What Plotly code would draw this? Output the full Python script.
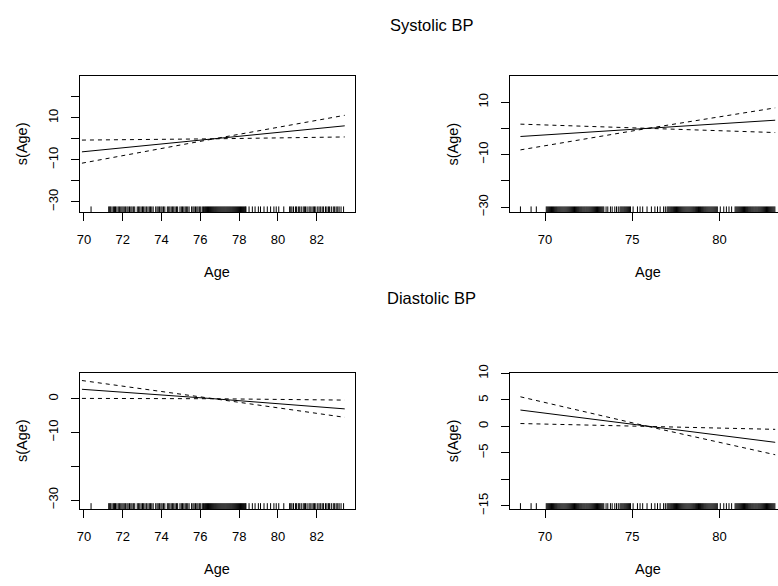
import plotly.graph_objects as go

# ---------------- data ----------------
# Left column (same age sample in both panels)
age_grid_left = [69.9, 76.7, 83.44]
sys_left_fit = [-6.2, 0.0, 6.2]
sys_left_upper = [-0.6, 0.0, 11.2]
sys_left_lower = [-11.6, 0.0, 0.9]
dia_left_fit = [2.8, 0.0, -3.0]
dia_left_upper = [5.4, 0.0, -0.4]
dia_left_lower = [0.1, 0.0, -5.5]

# Right column
age_grid_right = [68.59, 75.9, 83.2]
sys_right_fit = [-3.1, 0.0, 3.1]
sys_right_upper = [1.6, 0.0, 7.8]
sys_right_lower = [-8.2, 0.0, -1.6]
dia_right_fit = [3.1, 0.0, -3.0]
dia_right_upper = [5.6, 0.0, -0.55]
dia_right_lower = [0.55, 0.0, -5.35]

rug_left = [70.37,
    71.28, 71.33, 71.38, 71.45, 71.52, 71.58, 71.63, 71.7, 71.77, 71.83, 71.9, 71.96,
    72.02, 72.08, 72.15, 72.22, 72.28, 72.35, 72.42, 72.48, 72.55, 72.62, 72.75, 72.82,
    72.88, 72.95, 73.02, 73.08, 73.15, 73.22, 73.3, 73.37, 73.43, 73.5, 73.57, 73.7,
    73.77, 73.83, 73.9, 73.97, 74.03, 74.1, 74.17, 74.3, 74.37, 74.43, 74.5, 74.57,
    74.63, 74.7, 74.77, 74.83, 74.95, 75.02, 75.08, 75.15, 75.22, 75.28, 75.35, 75.42,
    75.55, 75.62, 75.68, 75.75, 75.82, 75.88, 75.95, 76.02, 76.1, 76.16, 76.22, 76.27,
    76.32, 76.37, 76.42, 76.47, 76.52, 76.57, 76.62, 76.67, 76.72, 76.77, 76.82, 76.87,
    76.92, 76.97, 77.02, 77.07, 77.12, 77.17, 77.22, 77.27, 77.32, 77.37, 77.42, 77.47,
    77.52, 77.57, 77.62, 77.67, 77.72, 77.77, 77.82, 77.87, 77.92, 77.97, 78.02, 78.07,
    78.12, 78.17, 78.22, 78.27, 78.32, 78.35,
    78.51, 78.68, 78.82, 78.99, 79.1, 79.28, 79.45, 79.62, 79.79, 79.91, 80.04, 80.3,
    80.6, 80.66, 80.72, 80.8, 80.9, 80.96, 81.05, 81.12, 81.2, 81.3, 81.36, 81.42, 81.5,
    81.6, 81.66, 81.75, 81.82, 81.88, 81.95, 82.05, 82.12, 82.2, 82.28, 82.35, 82.45,
    82.52, 82.6, 82.66, 82.75, 82.85, 82.92, 83.0, 83.08, 83.15, 83.25, 83.38]

rug_right = [68.59, 69.2, 69.5,
    70.07, 70.13, 70.19, 70.25, 70.31, 70.37, 70.43, 70.49, 70.55, 70.61, 70.67, 70.73,
    70.79, 70.85, 70.91, 70.97, 71.03, 71.09, 71.15, 71.21, 71.27, 71.33, 71.39, 71.45,
    71.51, 71.57, 71.63, 71.69, 71.75, 71.81, 71.87, 71.93, 71.99, 72.05, 72.11, 72.17,
    72.23, 72.29, 72.35, 72.41, 72.47, 72.53, 72.59, 72.65, 72.71, 72.77, 72.83, 72.89,
    72.95, 73.01, 73.07, 73.13, 73.19, 73.25, 73.31, 73.37,
    73.5, 73.6, 73.75, 73.85, 74.0, 74.1, 74.2,
    74.3, 74.36, 74.42, 74.48, 74.54, 74.6, 74.66, 74.72, 74.78, 74.84, 74.9,
    75.05, 75.3, 75.45, 75.6, 75.85, 76.1, 76.3, 76.45, 76.6, 76.8, 76.9,
    77.0, 77.06, 77.12, 77.18, 77.24, 77.3, 77.36, 77.42, 77.48, 77.54, 77.6, 77.66,
    77.72, 77.78, 77.84, 77.9, 77.96, 78.02, 78.08, 78.14, 78.2, 78.26, 78.32, 78.38,
    78.44, 78.5, 78.56, 78.62, 78.68, 78.74, 78.8, 78.86, 78.92, 78.98, 79.04, 79.1,
    79.16, 79.22, 79.28, 79.34, 79.4, 79.46, 79.52, 79.58, 79.64, 79.7, 79.76, 79.82, 79.88,
    80.05, 80.25, 80.4, 80.55, 80.7,
    80.9, 80.96, 81.02, 81.08, 81.14, 81.2, 81.26, 81.32, 81.38, 81.44, 81.5, 81.56,
    81.62, 81.68, 81.74, 81.8, 81.86, 81.92, 81.98, 82.04, 82.1, 82.16, 82.22, 82.28,
    82.34, 82.4, 82.46, 82.52, 82.58, 82.64, 82.7, 82.76, 82.82, 82.88, 82.94, 83.0,
    83.06, 83.12, 83.18]

x_ticks_left = [70, 72, 74, 76, 78, 80, 82]
x_ticks_right = [70, 75, 80]

y_ticks_sys_left = [-30, -20, -10, 0, 10, 20]
y_text_sys_left = ["\u221230", "", "\u221210", "", "10", ""]
y_ticks_sys_right = [-30, -20, -10, 0, 10]
y_text_sys_right = ["\u221230", "", "\u221210", "", "10"]
y_ticks_dia_left = [-30, -20, -10, 0]
y_text_dia_left = ["\u221230", "", "\u221210", "0"]
y_ticks_dia_right = [-15, -10, -5, 0, 5, 10]
y_text_dia_right = ["\u221215", "", "\u22125", "0", "5", "10"]

titles = ["Systolic BP", "Diastolic BP"]
x_label = "Age"
y_label = "s(Age)"

# ---------------- layout geometry ----------------
W, H = 778, 586
FONT = "Liberation Sans, Arial, sans-serif"

panels = [
    dict(ax="", xs=age_grid_left, fit=sys_left_fit, up=sys_left_upper, lo=sys_left_lower,
         rug=rug_left, xdom=(77.3, 353.0), ydom=(69.3, 209.3), xr=(69.8, 83.95), yr=(-35.0, 30.1),
         xt=x_ticks_left, yt=y_ticks_sys_left, ytt=y_text_sys_left, right=True),
    dict(ax="2", xs=age_grid_right, fit=sys_right_fit, up=sys_right_upper, lo=sys_right_lower,
         rug=rug_right, xdom=(509.3, 778.0), ydom=(69.3, 209.3), xr=(68.01, 83.36), yr=(-31.97, 20.07),
         xt=x_ticks_right, yt=y_ticks_sys_right, ytt=y_text_sys_right, right=False),
    dict(ax="3", xs=age_grid_left, fit=dia_left_fit, up=dia_left_upper, lo=dia_left_lower,
         rug=rug_left, xdom=(77.3, 353.0), ydom=(373.5, 513.3), xr=(69.8, 83.95), yr=(-32.66, 7.75),
         xt=x_ticks_left, yt=y_ticks_dia_left, ytt=y_text_dia_left, right=True),
    dict(ax="4", xs=age_grid_right, fit=dia_right_fit, up=dia_right_upper, lo=dia_right_lower,
         rug=rug_right, xdom=(509.3, 778.0), ydom=(373.5, 513.3), xr=(68.01, 83.36), yr=(-15.61, 10.18),
         xt=x_ticks_right, yt=y_ticks_dia_right, ytt=y_text_dia_right, right=False),
]

fig = go.Figure()
layout = dict(width=W, height=H, margin=dict(l=0, r=0, t=0, b=0),
              paper_bgcolor="white", plot_bgcolor="white", showlegend=False,
              font=dict(family=FONT, size=13, color="black"))
annotations = []

for p in panels:
    xa, ya = "x" + p["ax"], "y" + p["ax"]
    fig.add_trace(go.Scatter(x=p["xs"], y=p["fit"], mode="lines",
                             line=dict(color="black", width=1),
                             xaxis=xa, yaxis=ya, hoverinfo="skip"))
    for band in (p["up"], p["lo"]):
        fig.add_trace(go.Scatter(x=p["xs"], y=band, mode="lines",
                                 line=dict(color="black", width=1, dash="4px,4px"),
                                 xaxis=xa, yaxis=ya, hoverinfo="skip"))
    # rug along the bottom of the plotting region
    fig.add_trace(go.Scatter(x=p["rug"], y=[p["yr"][0]] * len(p["rug"]), mode="markers",
                             marker=dict(symbol="line-ns", size=8.4,
                                         line=dict(color="black", width=1)),
                             xaxis=xa, yaxis=ya, hoverinfo="skip", cliponaxis=True))
    x0, x1 = p["xdom"]
    y0, y1 = p["ydom"]
    layout["xaxis" + p["ax"]] = dict(
        domain=[x0 / W, x1 / W], range=list(p["xr"]), anchor=ya,
        tickmode="array", tickvals=p["xt"], ticks="outside", ticklen=8, tickwidth=1,
        tickcolor="black", showline=True, linecolor="black", linewidth=1, mirror=True,
        showgrid=False, zeroline=False, ticklabelstandoff=7,
        tickfont=dict(family=FONT, size=13, color="black"), fixedrange=True)
    layout["yaxis" + p["ax"]] = dict(
        domain=[(H - y1) / H, (H - y0) / H], range=list(p["yr"]), anchor=xa,
        tickmode="array", tickvals=p["yt"], ticktext=p["ytt"], tickangle=-90,
        ticks="outside", ticklen=8, tickwidth=1, tickcolor="black",
        showline=True, linecolor="black", linewidth=1, mirror=p["right"],
        showgrid=False, zeroline=False, ticklabelstandoff=8,
        tickfont=dict(family=FONT, size=13, color="black"), fixedrange=True)
    # axis titles
    annotations.append(dict(text=x_label, xref="paper", yref="paper",
                            x=(x0 + (x1 if p["right"] else 785.0)) / 2 / W,
                            y=(H - (y1 + 61)) / H, xanchor="center", yanchor="middle",
                            showarrow=False, font=dict(family=FONT, size=14.5, color="black")))
    annotations.append(dict(text=y_label, xref="paper", yref="paper",
                            x=(x0 - 58) / W, y=(H - (y0 + y1) / 2) / H, textangle=-90,
                            xanchor="center", yanchor="middle", showarrow=False,
                            font=dict(family=FONT, size=14.5, color="black")))

for t, yc in zip(titles, [17, 297]):
    annotations.append(dict(text=t, xref="paper", yref="paper", x=430 / W, y=(H - yc) / H,
                            xanchor="center", yanchor="middle", showarrow=False,
                            font=dict(family=FONT, size=16.5, color="black")))

layout["annotations"] = annotations
fig.update_layout(**layout)
fig.write_html("out.html")
